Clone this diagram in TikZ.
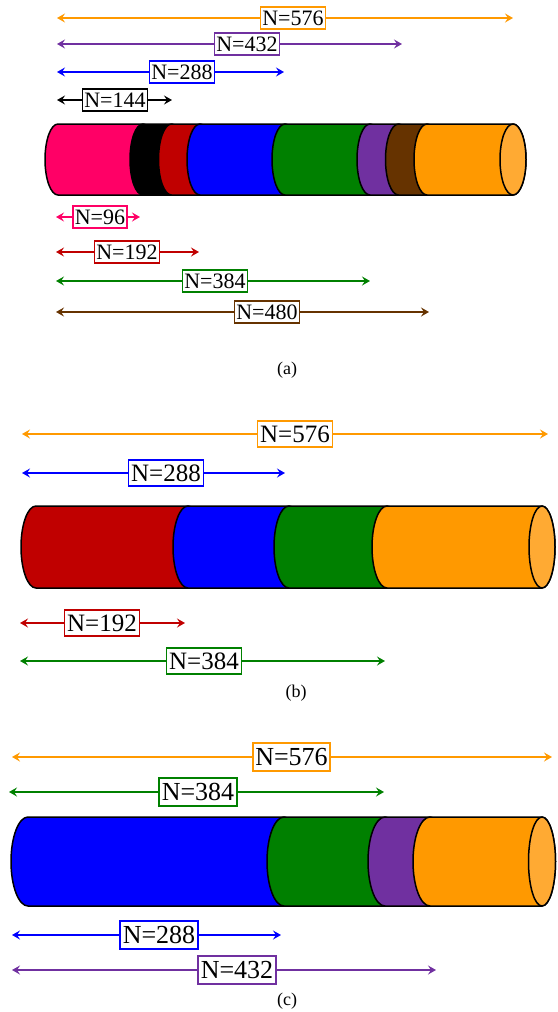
\documentclass[tikz,border=0pt]{standalone}
\usepackage{fontspec}
\setmainfont{Liberation Serif}
\usetikzlibrary{arrows.meta}
\definecolor{cpink}{HTML}{FF0066}
\definecolor{cred}{HTML}{C00000}
\definecolor{cblue}{HTML}{0000FF}
\definecolor{cgreen}{HTML}{008000}
\definecolor{cpurple}{HTML}{7030A0}
\definecolor{cbrown}{HTML}{663300}
\definecolor{corange}{HTML}{FF9900}
\definecolor{cface}{HTML}{FFAA33}
\definecolor{cblack}{HTML}{000000}
\tikzset{
  arr/.style={line width=1.3pt, {Stealth[length=8pt,width=9pt,inset=3pt]}-{Stealth[length=8pt,width=9pt,inset=3pt]}},
  lab/.style={draw=#1, fill=white, line width=1.6pt, text=black},
  fa/.style={font=\fontsize{22}{22}\selectfont, text height=15.5pt, text depth=1pt, inner xsep=2pt, inner ysep=3pt},
  fb/.style={font=\fontsize{25}{25}\selectfont, text height=17.5pt, text depth=1.2pt, inner xsep=2.5pt, inner ysep=3.5pt},
  fc/.style={font=\fontsize{26}{26}\selectfont, text height=18.5pt, text depth=1.2pt, inner xsep=2.5pt, inner ysep=4pt},
  captext/.style={font=\fontsize{18}{18}\selectfont},
  segline/.style={draw=black, line width=1.5pt, line join=round}
}
% x1, x2, center y, ry, rx left, rx right, colour
\newcommand{\cylseg}[7]{%
  \filldraw[fill=#7, segline] (#1,#3-#4) -- (#2,#3-#4)
    arc[start angle=-90, end angle=90, x radius=#6, y radius=#4]
    -- (#1,#3+#4)
    arc[start angle=90, end angle=270, x radius=#5, y radius=#4] -- cycle;}
% name, y, x left, x right, label x, colour, font style, text
\newcommand{\spanarrow}[8]{%
  \coordinate (#1l) at (#3,#2);
  \coordinate (#1r) at (#4,#2);
  \draw[arr, #6] (#1l) -- (#1r);
  \node[lab=#6, #7] (#1n) at (#5,#2) {#8};}
\begin{document}
\begin{tikzpicture}[x=1pt, y=-1pt]
\useasboundingbox (0,0) rectangle (557,1012);
% ---------- panel (a) ----------
\spanarrow{aA}{18}{57}{513}{293}{corange}{fa}{N=576}
\spanarrow{aB}{44}{57}{402}{247}{cpurple}{fa}{N=432}
\spanarrow{aC}{72}{57}{284}{182}{cblue}{fa}{N=288}
\spanarrow{aD}{100}{57}{172}{115}{cblack}{fa}{N=144}
\cylseg{58}{143}{159.5}{35.5}{13}{13}{cpink}
\cylseg{143}{171.5}{159.5}{35.5}{13}{13}{cblack}
\cylseg{171.5}{200}{159.5}{35.5}{13}{13}{cred}
\cylseg{200}{285}{159.5}{35.5}{13}{13}{cblue}
\cylseg{285}{370}{159.5}{35.5}{13}{13}{cgreen}
\cylseg{370}{398.5}{159.5}{35.5}{13}{13}{cpurple}
\cylseg{398.5}{427}{159.5}{35.5}{13}{13}{cbrown}
\cylseg{427}{513}{159.5}{35.5}{13}{13}{corange}
\filldraw[fill=cface, segline] (513,159.5) ellipse[x radius=13, y radius=35.5];
\spanarrow{aE}{217}{56}{140}{100}{cpink}{fa}{N=96}
\spanarrow{aF}{252}{56}{199}{127}{cred}{fa}{N=192}
\spanarrow{aG}{281}{56}{370}{215}{cgreen}{fa}{N=384}
\spanarrow{aH}{312}{56}{429}{267}{cbrown}{fa}{N=480}
\node[captext] (capa) at (287,370) {(a)};
% ---------- panel (b) ----------
\spanarrow{bA}{434}{22}{548}{295}{corange}{fb}{N=576}
\spanarrow{bB}{473}{22}{285}{166}{cblue}{fb}{N=288}
\cylseg{36}{188}{547}{41}{15}{15}{cred}
\cylseg{188}{289}{547}{41}{15}{15}{cblue}
\cylseg{289}{387}{547}{41}{15}{15}{cgreen}
\cylseg{387}{542}{547}{41}{15}{13}{corange}
\filldraw[fill=cface, segline] (542,547) ellipse[x radius=13, y radius=41];
\spanarrow{bC}{623}{20}{185}{102}{cred}{fb}{N=192}
\spanarrow{bD}{661}{20}{385}{204}{cgreen}{fb}{N=384}
\node[captext] (capb) at (296,693) {(b)};
% ---------- panel (c) ----------
\spanarrow{cA}{757}{12}{552}{291.5}{corange}{fc}{N=576}
\spanarrow{cB}{792}{9}{384}{198}{cgreen}{fc}{N=384}
\cylseg{28}{284}{861.5}{44.5}{17}{17}{cblue}
\cylseg{284}{385}{861.5}{44.5}{17}{17}{cgreen}
\cylseg{385}{430}{861.5}{44.5}{17}{17}{cpurple}
\cylseg{430}{542}{861.5}{44.5}{17}{13.5}{corange}
\filldraw[fill=cface, segline] (542,861.5) ellipse[x radius=13.5, y radius=44.5];
\spanarrow{cC}{935}{12}{281}{159}{cblue}{fc}{N=288}
\spanarrow{cD}{970}{12}{436}{237}{cpurple}{fc}{N=432}
\node[captext] (capc) at (287,1001) {(c)};
\end{tikzpicture}
\end{document}
